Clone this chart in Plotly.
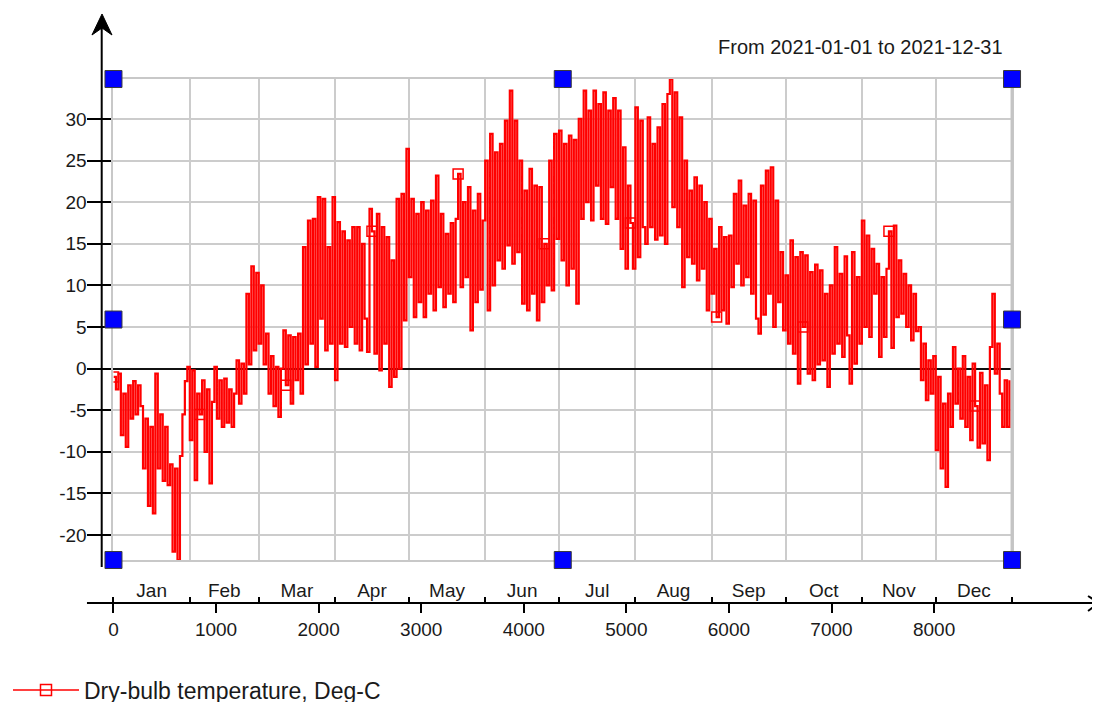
import plotly.graph_objects as go

# hourly index of the year, one reading per day (temperature in Deg-C)
months = ['Jan', 'Feb', 'Mar', 'Apr', 'May', 'Jun',
          'Jul', 'Aug', 'Sep', 'Oct', 'Nov', 'Dec']
month_start = [0, 744, 1416, 2160, 2880, 3624, 4344, 5088, 5832, 6552, 7296, 8016, 8760]
hour_ticks = [0, 1000, 2000, 3000, 4000, 5000, 6000, 7000, 8000]
temp_ticks = [-20, -15, -10, -5, 0, 5, 10, 15, 20, 25, 30]

temp_jan = [-1.0, -2.5, -0.6, -8.0, -3.0, -9.4, -2.0, -6.0, -1.5, -5.5, -2.0, -4.5, -12.0, -6.0, -16.5, -7.0,
            -17.4, -0.6, -12.0, -5.5, -13.5, -7.0, -14.0, -11.5, -22.0, -12.0, -23.0, -10.5, -5.5, -1.5, 0.2]
temp_feb = [-8.6, -0.2, -13.4, -3.0, -5.5, -1.4, -10.0, -2.5, -13.8, -4.0, 0.2, -6.0, -1.4, -7.0,
            -1.2, -6.5, -2.5, -7.0, -3.0, 1.0, -4.2, 0.6, -3.0, 9.0, 0.5, 12.3, 2.2, 11.5]
temp_mar = [3.0, 10.0, 0.5, 4.2, -3.0, 1.5, -4.5, 0.2, -5.8, 0.0, 4.6, -2.0, 4.0, -4.2, 3.8, -1.4,
            4.2, -3.0, 14.6, 0.5, 17.8, 3.0, 18.0, 0.2, 20.6, 6.0, 20.4, 2.2, 14.6, 3.0, 20.6]
temp_apr = [-1.4, 17.6, 3.0, 16.5, 2.6, 15.4, 5.0, 17.0, 3.0, 17.0, 2.2, 15.0, 6.0, 2.0, 19.2,
            16.5, 1.8, 18.6, -0.2, 17.0, 3.0, 15.8, -2.2, 13.0, -1.0, 20.4, 0.0, 21.0, 5.8, 26.4]
temp_may = [11.0, 20.4, 6.2, 18.6, 8.0, 20.0, 6.2, 19.0, 9.0, 20.2, 7.0, 23.2, 9.8, 18.6, 7.4, 16.2,
            9.0, 17.5, 8.0, 18.0, 23.4, 9.8, 20.0, 11.0, 21.8, 4.6, 19.0, 8.0, 21.0, 9.5, 17.8]
temp_jun = [25.0, 7.0, 28.2, 10.0, 26.0, 13.0, 27.0, 12.0, 29.8, 14.8, 33.4, 12.6, 29.8, 14.0, 25.0,
            7.8, 21.4, 7.0, 24.0, 9.0, 22.0, 5.8, 21.8, 8.0, 15.0, 10.0, 25.0, 9.4, 28.2, 15.6]
temp_jul = [28.6, 13.0, 27.0, 10.0, 28.0, 12.0, 27.5, 7.8, 30.0, 18.0, 33.4, 20.0, 31.0, 17.8, 33.4, 22.0,
            31.8, 18.0, 33.2, 17.4, 31.0, 21.8, 32.5, 18.0, 31.0, 14.4, 26.6, 12.0, 22.0, 17.5, 12.0]
temp_aug = [31.4, 13.4, 29.8, 17.0, 15.0, 30.2, 17.0, 27.0, 15.5, 29.0, 16.0, 31.8, 15.0, 33.0, 34.8, 19.4,
            33.2, 17.0, 30.2, 9.8, 25.0, 13.4, 21.4, 12.6, 23.0, 10.6, 22.0, 12.0, 20.0, 7.0, 18.0]
temp_sep = [9.0, 14.4, 6.2, 17.0, 7.0, 15.8, 5.4, 16.0, 9.8, 21.0, 12.6, 22.6, 10.0, 19.6, 11.0,
            21.0, 9.0, 20.2, 6.0, 4.2, 22.0, 6.5, 23.8, 9.0, 24.2, 5.0, 20.2, 8.0, 14.0, 4.6]
temp_oct = [11.2, 3.0, 15.4, 1.8, 13.4, -1.8, 14.0, 5.0, 13.6, -0.6, 11.6, -1.4, 12.5, 0.5, 11.8, 1.0,
            9.0, -2.2, 10.0, 1.8, 14.6, 3.0, 11.4, 1.4, 13.5, 4.0, -1.8, 14.0, 0.6, 11.0, 3.0]
temp_nov = [17.8, 5.0, 16.0, 3.8, 14.4, 9.0, 12.6, 1.4, 11.0, 3.8, 12.0, 16.5, 2.5, 17.2, 6.2,
            13.0, 6.6, 11.4, 5.0, 10.0, 3.4, 9.0, 4.5, 5.0, -1.4, 3.0, -3.8, 1.0, -3.0, 1.5]
temp_dec = [-9.8, -1.0, -12.0, -4.2, -14.2, -3.0, -7.0, 2.6, -4.2, 0.0, -6.0, 1.5, -7.0, -1.0, -8.6, 0.6,
            -4.5, -9.5, -0.5, -9.0, -2.0, -11.0, 2.6, 9.0, -0.6, 3.0, -3.0, -7.0, -1.4, -7.0, -1.4]

temp = (temp_jan + temp_feb + temp_mar + temp_apr + temp_may + temp_jun +
        temp_jul + temp_aug + temp_sep + temp_oct + temp_nov + temp_dec)
hours = list(range(0, 8760, 24))
marker_idx = list(range(0, len(temp), 35))

month_mid = [(a + b) / 2 for a, b in zip(month_start[:-1], month_start[1:])]

FONT = 'Liberation Sans, Arial, sans-serif'
TXT = '#1a1a1a'
RED = '#ff0000'
GRID = '#cccccc'
XDOM = [0.0712, 0.9189]
YDOM = [0.1674, 0.8995]
AXIS_Y = 0.1020

fig = go.Figure()
# markers first so the dense line sits on top of them, as in the original
fig.add_trace(go.Scatter(x=[hours[i] for i in marker_idx], y=[temp[i] for i in marker_idx],
                         mode='markers', showlegend=False,
                         marker=dict(symbol='square-open', size=10, color=RED, line=dict(width=1.5))))
fig.add_trace(go.Scatter(x=hours, y=temp, mode='lines', line=dict(color=RED, width=2.2, shape='hv'),
                         showlegend=False, hoverinfo='x+y'))
fig.add_trace(go.Scatter(x=[None], y=[None], mode='lines+markers', name='Dry-bulb temperature, Deg-C',
                         line=dict(color=RED, width=1.5),
                         marker=dict(symbol='square-open', size=11, color=RED, line=dict(width=1.5))))
# empty traces so the two helper axes under the plot get drawn
fig.add_trace(go.Scatter(x=[0, 8760], y=[None, None], xaxis='x2', showlegend=False, hoverinfo='skip'))
fig.add_trace(go.Scatter(x=[0, 8760], y=[None, None], xaxis='x3', showlegend=False, hoverinfo='skip'))

fig.update_layout(
    width=1100, height=702,
    margin=dict(l=30, r=10, t=5, b=40, autoexpand=False),
    paper_bgcolor='white', plot_bgcolor='white',
    font=dict(family=FONT, color=TXT, size=19),
    xaxis=dict(range=[0, 8760], domain=XDOM, tickvals=month_start, showticklabels=False, ticks='',
               showgrid=True, gridcolor=GRID, gridwidth=2, zeroline=False, automargin=False,
               showline=True, linecolor='#c8c8c8', linewidth=2, mirror=True),
    xaxis2=dict(overlaying='x', anchor='free', position=AXIS_Y, range=[0, 8760], domain=XDOM,
                tickvals=hour_ticks, ticks='outside', ticklen=9, tickwidth=1.5, tickcolor='black',
                showgrid=False, zeroline=False, showline=False, automargin=False, tickfont=dict(size=19)),
    xaxis3=dict(overlaying='x', anchor='free', position=AXIS_Y, side='top', range=[0, 8760],
                domain=XDOM, tickvals=month_mid, ticktext=months, ticks='', showgrid=False,
                zeroline=False, showline=False, automargin=False, tickfont=dict(size=19),
                ticklabelstandoff=2,
                minor=dict(tickvals=month_start, ticks='outside', ticklen=6,
                           tickwidth=1.5, tickcolor='black', showgrid=False)),
    yaxis=dict(range=[-23.0, 34.8], domain=YDOM, tickvals=temp_ticks,
               ticktext=[str(v) for v in temp_ticks], ticks='outside', ticklen=24,
               tickwidth=1.5, tickcolor='black', showgrid=True, gridcolor=GRID, gridwidth=2,
               zeroline=True, zerolinecolor='#111111', zerolinewidth=2, automargin=False,
               ticklabelstandoff=-3,
               showline=True, linecolor='#c8c8c8', linewidth=2, mirror=True, tickfont=dict(size=19)),
    legend=dict(orientation='h', xref='container', yref='container', x=0, xanchor='left',
                y=0.0285, yanchor='middle', itemwidth=66, font=dict(size=23), bgcolor='rgba(0,0,0,0)'),
    annotations=[dict(text='From 2021-01-01 to 2021-12-31', xref='paper', yref='paper',
                      x=0.9123, y=0.9482, xanchor='right', yanchor='middle', showarrow=False,
                      font=dict(size=20))],
)

shapes = [
    # bottom axis line with open arrow
    dict(type='line', xref='paper', yref='paper', x0=0.0462, x1=1.0, y0=AXIS_Y, y1=AXIS_Y,
         line=dict(color='black', width=2)),
    dict(type='path', xref='paper', yref='paper', path='M 0.9906,0.1126 L 1.0009,0.1020 L 0.9906,0.0898',
         line=dict(color='black', width=2)),
    # left axis line with filled arrow
    dict(type='line', xref='paper', yref='paper', x0=0.0601, x1=0.0601, y0=0.1568, y1=0.99,
         line=dict(color='black', width=2)),
    dict(type='path', xref='paper', yref='paper',
         path='M 0.0509,0.9665 L 0.0604,0.9985 L 0.0698,0.9665 L 0.0604,0.9772 Z',
         fillcolor='black', line=dict(color='black', width=1)),
    # thicker right border
    dict(type='line', xref='x domain', yref='y domain', x0=1, x1=1, y0=0, y1=1,
         line=dict(color='#c4c4c4', width=3)),
]
for fx, fy in [(0, 0), (0.5, 0), (1, 0), (0, 0.5), (1, 0.5), (0, 1), (0.5, 1), (1, 1)]:
    shapes.append(dict(type='rect', xref='x domain', yref='y domain', xsizemode='pixel', ysizemode='pixel',
                       xanchor=fx, yanchor=fy, x0=-8.5, x1=8.5, y0=-8.5, y1=8.5,
                       fillcolor='#0000ff', line=dict(color='#3a3a3a', width=1)))
fig.update_layout(shapes=shapes)

fig.write_html('out.html')
